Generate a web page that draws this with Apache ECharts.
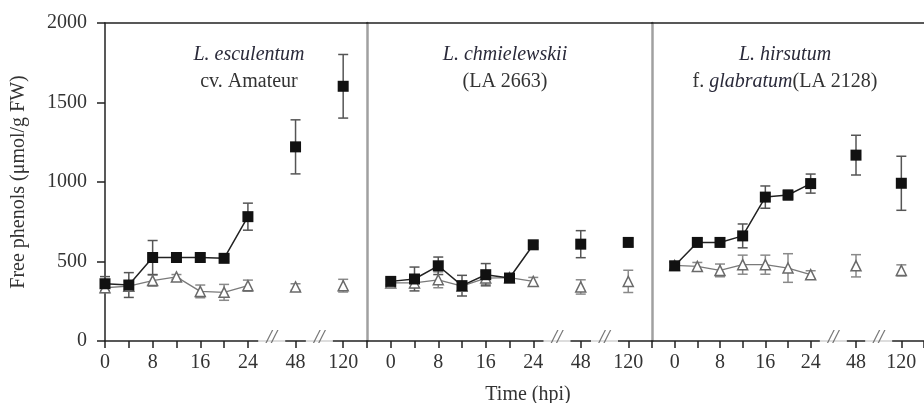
<!DOCTYPE html>
<html>
<head>
<meta charset="utf-8">
<script src="https://cdn.jsdelivr.net/npm/echarts@6/dist/echarts.min.js"></script>
<style>
  html, body { margin: 0; padding: 0; background: #fff; }
  #chart { width: 924px; height: 403px; }
</style>
</head>
<body>
<div id="chart"></div>
<script>
// sampling times (hpi) and the axis slots they sit on
const hours = [0, 4, 8, 12, 16, 20, 24, 48, 120];
const slots = ['0', '4', '8', '12', '16', '20', '24', '//', '48', '//', '120'];
const shownLabels = ['0', '8', '16', '24', '48', '120'];

// L. esculentum cv. Amateur
const escSquare = [360, 352, 525, 525, 525, 520, 782, 1221, 1602];
const escSquareErr = [45, 78, 107, 20, 25, 20, 85, 170, 200];
const escTriangle = [335, 345, 380, 403, 312, 306, 348, 340, 348];
const escTriangleErr = [30, 30, 35, 15, 40, 50, 35, 20, 40];

// L. chmielewskii (LA 2663)
const chmSquare = [375, 390, 473, 348, 417, 396, 605, 609, 620];
const chmSquareErr = [20, 75, 55, 65, 70, 20, 20, 85, 25];
const chmTriangle = [365, 365, 385, 345, 396, 398, 375, 340, 375];
const chmTriangleErr = [20, 30, 50, 30, 40, 20, 25, 45, 70];

// L. hirsutum f. glabratum (LA 2128)
const hirSquare = [473, 620, 620, 661, 905, 918, 990, 1169, 992];
const hirSquareErr = [25, 25, 20, 75, 70, 30, 60, 125, 170];
const hirTriangle = [475, 469, 444, 480, 480, 459, 417, 473, 444];
const hirTriangleErr = [20, 25, 40, 60, 60, 90, 25, 70, 35];

const FONT = 'Liberation Serif';

const panels = [
  { sq: escSquare, sqErr: escSquareErr, tr: escTriangle, trErr: escTriangleErr, off: 0 },
  { sq: chmSquare, sqErr: chmSquareErr, tr: chmTriangle, trErr: chmTriangleErr, off: 1 },
  { sq: hirSquare, sqErr: hirSquareErr, tr: hirTriangle, trErr: hirTriangleErr, off: 1 }
];

function slotIndex(h) {
  return slots.indexOf(String(h));
}

function lineData(vals, off) {
  const out = [];
  hours.forEach((h, i) => {
    if (h === 48) out.push([7 + off, '-']);
    if (h === 120) out.push([9 + off, '-']);
    out.push([slotIndex(h) + off, vals[i]]);
  });
  return out;
}

function errData(vals, errs, off) {
  return hours.map((h, i) => [slotIndex(h) + off, vals[i] - errs[i], vals[i] + errs[i]]);
}

function errRenderer(color) {
  return function (params, api) {
    const x = api.value(0);
    const lo = api.coord([x, api.value(1)]);
    const hi = api.coord([x, api.value(2)]);
    const w = 5;
    const style = { stroke: color, lineWidth: 1.5 };
    return {
      type: 'group',
      children: [
        { type: 'line', shape: { x1: lo[0], y1: lo[1], x2: hi[0], y2: hi[1] }, style: style },
        { type: 'line', shape: { x1: lo[0] - w, y1: lo[1], x2: lo[0] + w, y2: lo[1] }, style: style },
        { type: 'line', shape: { x1: hi[0] - w, y1: hi[1], x2: hi[0] + w, y2: hi[1] }, style: style }
      ]
    };
  };
}

const chart = echarts.init(document.getElementById('chart'));

const grids = [
  { left: 105, top: 23, width: 262, height: 318 },
  { left: 367, top: 23, width: 285, height: 318 },
  { left: 652, top: 23, width: 285, height: 318 }
];

const xAxes = [];
const yAxes = [];
const series = [];

panels.forEach((p, g) => {
  const cats = (p.off ? [''] : []).concat(slots, ['']);
  xAxes.push({
    type: 'category',
    gridIndex: g,
    data: cats,
    boundaryGap: false,
    axisLine: { lineStyle: { color: '#222', width: 1.5 } },
    axisTick: {
      length: 7,
      lineStyle: { color: '#222', width: 1.5 },
      interval: (i, v) => v !== '//'
    },
    axisLabel: {
      interval: (i, v) => shownLabels.indexOf(v) >= 0,
      fontFamily: FONT,
      fontSize: 20,
      color: '#333',
      margin: 12
    },
    splitLine: { show: false }
  });
  xAxes.push({
    type: 'category',
    gridIndex: g,
    position: 'top',
    data: cats,
    boundaryGap: false,
    axisLine: { lineStyle: { color: '#222', width: 1.5 } },
    axisTick: { show: false },
    axisLabel: { show: false }
  });
  yAxes.push({
    type: 'value',
    gridIndex: g,
    min: 0,
    max: 2000,
    interval: 500,
    name: g === 0 ? 'Free phenols (\u03bcmol/g FW)' : '',
    nameLocation: 'middle',
    nameGap: 76,
    nameTextStyle: { fontFamily: FONT, fontSize: 20, color: '#333' },
    axisLine: {
      show: true,
      lineStyle: g === 0 ? { color: '#222', width: 1.5 } : { color: '#a0a0a0', width: 2.5 }
    },
    axisTick: { show: g === 0, length: 8, lineStyle: { color: '#222', width: 1.5 } },
    axisLabel: {
      show: g === 0,
      formatter: v => String(v),
      fontFamily: FONT,
      fontSize: 20,
      color: '#333',
      margin: 18
    },
    splitLine: { show: false }
  });

  const xi = g * 2;
  series.push({
    type: 'custom',
    xAxisIndex: xi,
    yAxisIndex: g,
    renderItem: errRenderer('#8a8a8a'),
    data: errData(p.tr, p.trErr, p.off),
    z: 1,
    clip: false
  });
  series.push({
    type: 'custom',
    xAxisIndex: xi,
    yAxisIndex: g,
    renderItem: errRenderer('#555'),
    data: errData(p.sq, p.sqErr, p.off),
    z: 2,
    clip: false
  });
  series.push({
    type: 'line',
    xAxisIndex: xi,
    yAxisIndex: g,
    data: lineData(p.tr, p.off),
    symbol: 'triangle',
    symbolSize: 10,
    showSymbol: true,
    connectNulls: false,
    lineStyle: { color: '#7a7a7a', width: 1.3 },
    itemStyle: { color: '#fff', borderColor: '#6a6a6a', borderWidth: 1.5 },
    z: 3,
    animation: false
  });
  series.push({
    type: 'line',
    xAxisIndex: xi,
    yAxisIndex: g,
    data: lineData(p.sq, p.off),
    symbol: 'rect',
    symbolSize: 11,
    showSymbol: true,
    connectNulls: false,
    lineStyle: { color: '#222', width: 1.5 },
    itemStyle: { color: '#111' },
    z: 4,
    animation: false
  });
  // axis break marks
  series.push({
    type: 'scatter',
    xAxisIndex: xi,
    yAxisIndex: g,
    data: [[7 + p.off, 0], [9 + p.off, 0]],
    symbol: 'rect',
    symbolSize: [27, 8],
    itemStyle: { color: '#fff' },
    label: {
      show: true,
      position: 'inside',
      formatter: '//',
      fontFamily: FONT,
      fontStyle: 'italic',
      fontWeight: 'bold',
      fontSize: 19,
      color: '#555',
      offset: [0, -3]
    },
    clip: false,
    silent: true,
    z: 6,
    animation: false
  });
});

const titleRich = {
  i: { fontFamily: FONT, fontStyle: 'italic', fontWeight: 'normal', fontSize: 20, color: '#2a2a3a', lineHeight: 27 },
  n: { fontFamily: FONT, fontWeight: 'normal', fontSize: 20, color: '#333', lineHeight: 27 }
};

const option = {
  animation: false,
  grid: grids,
  xAxis: xAxes,
  yAxis: yAxes,
  title: [
    { text: '{i|L. esculentum}\n{n|cv. Amateur}', left: 244, top: 36, textAlign: 'center',
      textStyle: { fontWeight: 'normal', rich: titleRich } },
    { text: '{i|L. chmielewskii}\n{n|(LA 2663)}', left: 500, top: 36, textAlign: 'center',
      textStyle: { fontWeight: 'normal', rich: titleRich } },
    { text: '{i|L. hirsutum}\n{n|f. }{i|glabratum}{n|(LA 2128)}', left: 780, top: 36, textAlign: 'center',
      textStyle: { fontWeight: 'normal', rich: titleRich } },
    { text: 'Time (hpi)', left: 523, top: 380, textAlign: 'center',
      textStyle: { fontFamily: FONT, fontSize: 20, fontWeight: 'normal', color: '#333' } }
  ],
  series: series
};

chart.setOption(option);
</script>
</body>
</html>
